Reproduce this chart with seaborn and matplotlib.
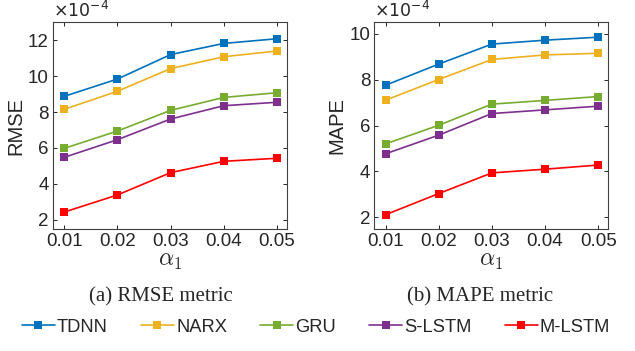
import matplotlib
matplotlib.use("Agg")
import matplotlib.pyplot as plt
import seaborn as sns
import pandas as pd

alphas = [0.01, 0.02, 0.03, 0.04, 0.05]
models = ["TDNN", "NARX", "GRU", "S-LSTM", "M-LSTM"]

rmse_tdnn = [8.87, 9.83, 11.19, 11.81, 12.07]
rmse_narx = [8.15, 9.15, 10.41, 11.07, 11.39]
rmse_gru = [5.98, 6.94, 8.09, 8.81, 9.07]
rmse_slstm = [5.48, 6.46, 7.61, 8.35, 8.54]
rmse_mlstm = [2.44, 3.39, 4.63, 5.26, 5.43]

mape_tdnn = [7.75, 8.67, 9.54, 9.71, 9.84]
mape_narx = [7.10, 8.00, 8.87, 9.07, 9.14]
mape_gru = [5.20, 6.01, 6.93, 7.09, 7.26]
mape_slstm = [4.77, 5.58, 6.52, 6.68, 6.84]
mape_mlstm = [2.12, 3.04, 3.94, 4.10, 4.28]

colors = ["#0072BD", "#EDB120", "#77AC30", "#7E2F8E", "#FF0000"]

def build(series):
    rows = []
    for m, vals in zip(models, series):
        for a, v in zip(alphas, vals):
            rows.append({"alpha": a, "value": v, "model": m})
    return pd.DataFrame(rows)

df_rmse = build([rmse_tdnn, rmse_narx, rmse_gru, rmse_slstm, rmse_mlstm])
df_mape = build([mape_tdnn, mape_narx, mape_gru, mape_slstm, mape_mlstm])

sns.set_theme(style="white")
plt.rcParams["font.family"] = ["Liberation Sans", "DejaVu Sans"]
plt.rcParams["mathtext.fontset"] = "cm"

fig = plt.figure(figsize=(6.35, 3.51), dpi=100)
ax1 = fig.add_axes([0.0835, 0.3476, 0.3685, 0.5897])
ax2 = fig.add_axes([0.5895, 0.3476, 0.3685, 0.5897])

palette = dict(zip(models, colors))
captions = []
for ax, df, ylabel, ylim, yticks, cap in [
    (ax1, df_rmse, "RMSE", (1.5, 13), [2, 4, 6, 8, 10, 12], "(a) RMSE metric"),
    (ax2, df_mape, "MAPE", (1.5, 10.5), [2, 4, 6, 8, 10], "(b) MAPE metric"),
]:
    sns.lineplot(data=df, x="alpha", y="value", hue="model", hue_order=models,
                 palette=palette, style="model", markers=["s"] * 5, dashes=False,
                 markersize=5.5, markeredgewidth=0, linewidth=1.2, ax=ax, legend=(ax is ax1))
    ax.set_xlim(0.0079, 0.0519)
    ax.set_ylim(*ylim)
    ax.set_xticks(alphas)
    ax.set_xticklabels(["0.01", "0.02", "0.03", "0.04", "0.05"])
    ax.set_yticks(yticks)
    ax.tick_params(direction="in", length=3, width=0.7, colors="#262626",
                   labelsize=13.5, top=True, right=True, pad=3,
                   bottom=True, left=True)
    for s in ax.spines.values():
        s.set_color("#404040")
        s.set_linewidth(0.8)
    ax.set_ylabel(ylabel, fontsize=14.5, color="#262626", labelpad=2)
    ax.set_xlabel(r"$\alpha_1$", fontsize=17, color="#262626", labelpad=0)
    ax.text(0.0, 1.01, r"$\times 10^{-4}$", transform=ax.transAxes,
            fontsize=12.5, ha="left", va="bottom", color="#262626",
            math_fontfamily="dejavusans")
    captions.append(cap)

for cap, xc in zip(captions, [161, 480]):
    fig.text(xc / 635, 1 - 297 / 351, cap, fontsize=15, family="Liberation Serif",
             ha="center", va="center")

handles, labels = ax1.get_legend_handles_labels()
ax1.get_legend().remove()
fig.legend(handles, labels, loc="center", bbox_to_anchor=(316 / 635, 1 - 327 / 351),
           ncol=5, frameon=False, fontsize=13.2, handlelength=1.8,
           handletextpad=0.12, columnspacing=1.8)

fig.savefig("out.png", dpi=100)
